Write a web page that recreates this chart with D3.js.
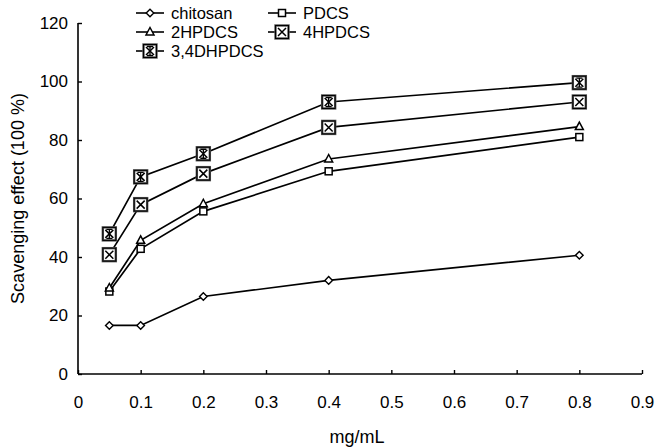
<!DOCTYPE html>
<html>
<head>
<meta charset="utf-8">
<script src="https://cdn.jsdelivr.net/npm/d3@7"></script>
<style>
  body { margin: 0; background: #fff; }
  text { font-family: "Liberation Sans", Arial, sans-serif; fill: #000; }
</style>
</head>
<body>
<svg width="657" height="447"></svg>
<script>
// data
var conc = [0.05, 0.1, 0.2, 0.4, 0.8];
var chitosan = [16.6, 16.6, 26.5, 32.0, 40.6];
var pdcs = [28.2, 42.8, 55.6, 69.3, 81.0];
var hpdcs2 = [29.4, 45.7, 58.2, 73.5, 84.6];
var hpdcs4 = [40.8, 57.9, 68.5, 84.3, 93.0];
var dhpdcs34 = [47.9, 67.4, 75.3, 93.0, 99.6];
var xTicks = [0, 0.1, 0.2, 0.3, 0.4, 0.5, 0.6, 0.7, 0.8, 0.9];
var yTicks = [0, 20, 40, 60, 80, 100, 120];

var series = [
  {name: "chitosan", values: chitosan, shape: "diamond"},
  {name: "PDCS", values: pdcs, shape: "square"},
  {name: "2HPDCS", values: hpdcs2, shape: "triangle"},
  {name: "4HPDCS", values: hpdcs4, shape: "xbox"},
  {name: "3,4DHPDCS", values: dhpdcs34, shape: "starbox"}
];

var svg = d3.select("svg");

var x = d3.scaleLinear().domain([0, 0.9]).range([78, 642]);
var y = d3.scaleLinear().domain([0, 120]).range([374, 23]);

// axes, ticks point inward
var xAxis = svg.append("g")
    .attr("transform", "translate(0," + y(0) + ")")
    .call(d3.axisBottom(x).tickValues(xTicks).tickSize(-4).tickPadding(22)
      .tickFormat(function(d){ return d === 0 ? "0" : d3.format(".1f")(d); }));
var yAxis = svg.append("g")
    .attr("transform", "translate(" + x(0) + ",0)")
    .call(d3.axisLeft(y).tickValues(yTicks).tickSize(-4).tickPadding(10));

[xAxis, yAxis].forEach(function(g){
  g.select(".domain").attr("stroke", "#000").attr("stroke-width", 1.6);
  g.selectAll(".tick line").attr("stroke", "#000").attr("stroke-width", 1.4);
  g.selectAll(".tick text").style("font-size", "17px").style("font-family", "Liberation Sans, Arial, sans-serif");
});
// plain lines without the outer end caps
xAxis.select(".domain").attr("d", "M" + x(0) + ",0H" + x(0.9));
yAxis.select(".domain").attr("d", "M0," + y(120) + "V" + y(0));

svg.append("text")
    .attr("x", (x(0) + x(0.9)) / 2 - 3).attr("y", 443)
    .attr("text-anchor", "middle").style("font-size", "18px")
    .text("mg/mL");
svg.append("text")
    .attr("transform", "translate(24," + ((y(0) + y(120)) / 2) + ") rotate(-90)")
    .attr("text-anchor", "middle").style("font-size", "18px")
    .text("Scavenging effect (100 %)");

function drawMarker(g, shape) {
  if (shape === "diamond") {
    g.append("path").attr("d", "M0,-3.8L3.8,0L0,3.8L-3.8,0Z")
      .attr("fill", "#fff").attr("stroke", "#000").attr("stroke-width", 1.4);
  } else if (shape === "square") {
    g.append("rect").attr("x", -3.5).attr("y", -3.5).attr("width", 7).attr("height", 7)
      .attr("fill", "#fff").attr("stroke", "#000").attr("stroke-width", 1.5);
  } else if (shape === "triangle") {
    g.append("path").attr("d", "M0,-4.5L4,3L-4,3Z")
      .attr("fill", "#fff").attr("stroke", "#000").attr("stroke-width", 1.5);
  } else {
    g.append("rect").attr("x", -6.5).attr("y", -6.5).attr("width", 13).attr("height", 13)
      .attr("fill", "#fff").attr("stroke", "#555").attr("stroke-width", 2.4);
    g.append("rect").attr("x", -6.5).attr("y", -6.5).attr("width", 13).attr("height", 13)
      .attr("fill", "none").attr("stroke", "#000").attr("stroke-width", 1);
    g.append("path").attr("d", "M-4,-4L4,4M4,-4L-4,4")
      .attr("stroke", "#000").attr("stroke-width", 1.5);
    if (shape === "starbox") {
      g.append("path").attr("d", "M0,-4.5V4.5M-3,-4.5H3M-3,4.5H3")
        .attr("stroke", "#000").attr("stroke-width", 1.3);
    }
  }
}

var line = d3.line()
    .x(function(d, i){ return x(conc[i]); })
    .y(function(d){ return y(d); });

series.forEach(function(s){
  svg.append("path").datum(s.values)
    .attr("d", line).attr("fill", "none")
    .attr("stroke", "#000").attr("stroke-width", 1.7);
});
series.forEach(function(s){
  svg.append("g").selectAll("g")
    .data(s.values).enter().append("g")
    .attr("transform", function(d, i){ return "translate(" + x(conc[i]) + "," + y(d) + ")"; })
    .each(function(){ drawMarker(d3.select(this), s.shape); });
});

// legend
var legendPos = [[136, 13], [268, 13], [136, 32], [268, 32], [136, 51]];
series.forEach(function(s, i){
  var p = legendPos[i];
  var g = svg.append("g").attr("transform", "translate(" + p[0] + "," + p[1] + ")");
  g.append("line").attr("x1", 0).attr("x2", 28).attr("y1", 0).attr("y2", 0)
    .attr("stroke", "#000").attr("stroke-width", 1.6);
  drawMarker(g.append("g").attr("transform", "translate(14,0)"), s.shape);
  g.append("text").attr("x", 35).attr("y", 6).style("font-size", "16.5px").text(s.name);
});
</script>
</body>
</html>
